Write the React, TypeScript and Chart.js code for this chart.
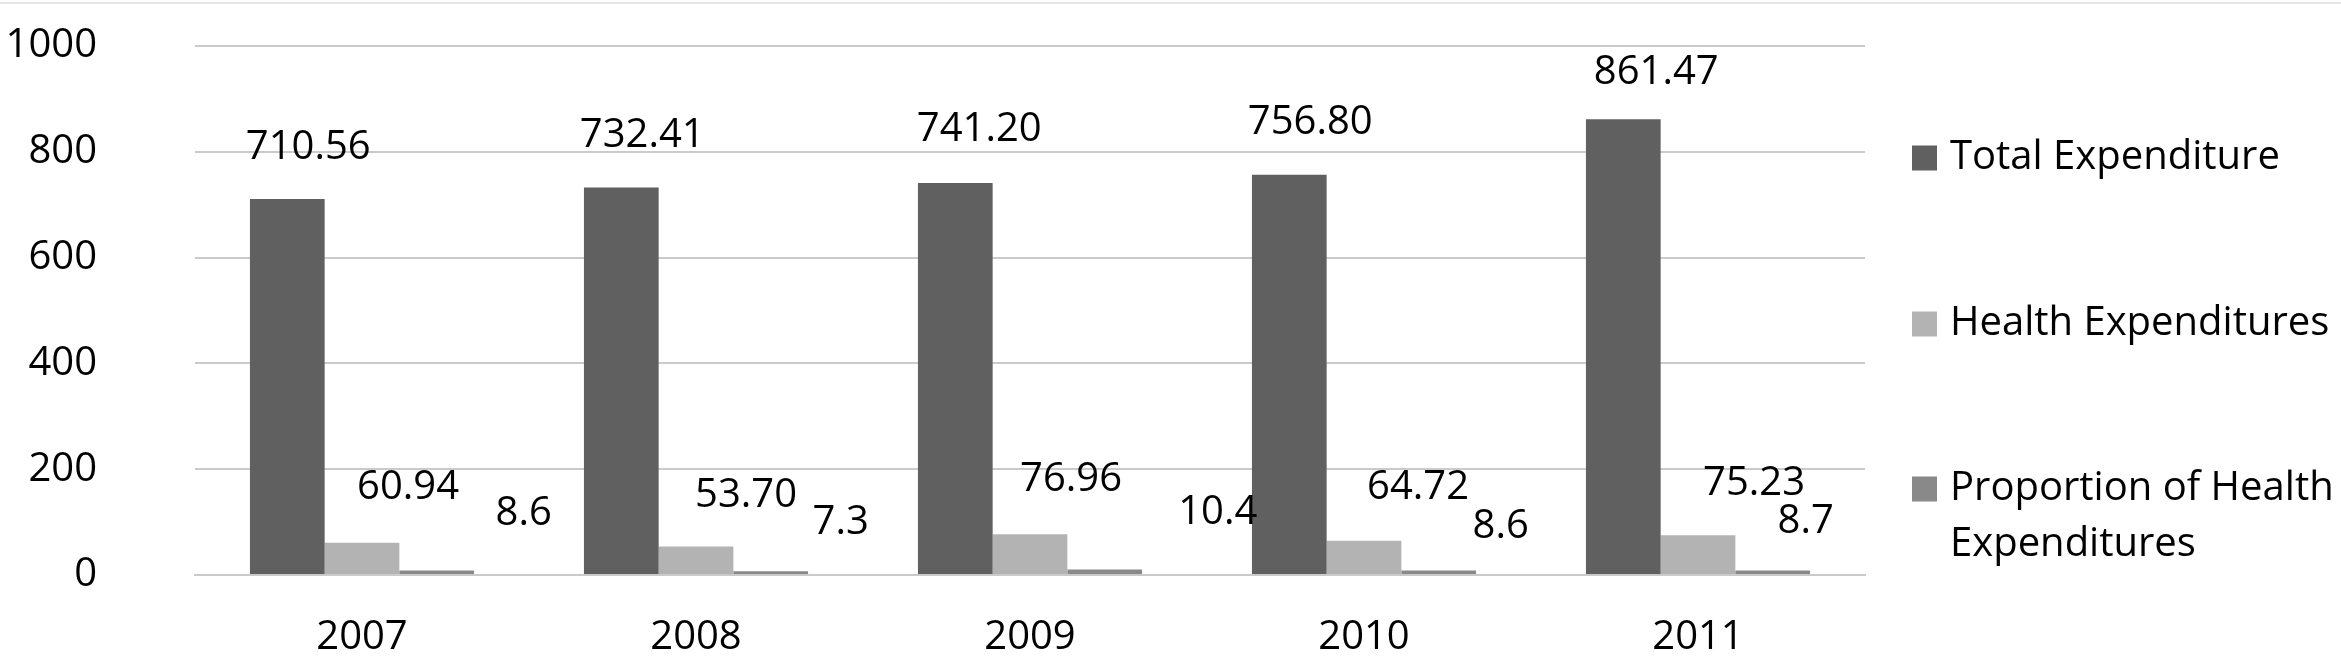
import React, { useEffect, useRef } from 'react';
import { Chart, registerables } from 'chart.js';

Chart.register(...registerables);

// ---------------- data ----------------
const years = ['2007', '2008', '2009', '2010', '2011'];
const totalExpenditure = [710.56, 732.41, 741.2, 756.8, 861.47];
const healthExpenditures = [60.94, 53.7, 76.96, 64.72, 75.23];
const proportionOfHealth = [8.6, 7.3, 10.4, 8.6, 8.7];
const seriesNames = ['Total Expenditure', 'Health Expenditures', 'Proportion of Health Expenditures'];
const seriesDecimals = [2, 2, 1];
const yTicks = [0, 200, 400, 600, 800, 1000];

// ---------------- styles ----------------
const FONT = "'Open Sans', sans-serif";
const FONT_SIZE = 40;
const COLORS = ['#606060', '#b3b3b3', '#898989'];
const GRID = '#cacaca';
const W = 2341;
const H = 661;

// per-label placement (dx, dy) relative to the top-centre of its bar
const LABEL_OFFSETS: number[][][] = [
  [[21, -52], [21, -52], [24, -53], [21, -52], [33, -47]],
  [[46, -55], [50, -51], [41, -55], [54, -53], [56, -52]],
  [[87, -57], [70, -49], [113, -57], [62, -44], [33, -49]],
];

const LEGEND = { boxX: 1912, box: 25, textX: 1950, itemY: [158, 324, 489], lineH: 56, maxW: 385 };

const valueLabelPlugin = {
  id: 'valueLabels',
  afterDatasetsDraw(chart: any) {
    const ctx = chart.ctx;
    ctx.save();
    ctx.font = `${FONT_SIZE}px ${FONT}`;
    ctx.fillStyle = '#000';
    ctx.textAlign = 'center';
    ctx.textBaseline = 'middle';
    chart.data.datasets.forEach((ds: any, i: number) => {
      const meta = chart.getDatasetMeta(i);
      meta.data.forEach((bar: any, j: number) => {
        const [dx, dy] = LABEL_OFFSETS[i][j];
        const v = ds.data[j] as number;
        ctx.fillText(v.toFixed(seriesDecimals[i]), bar.x + dx, bar.y + dy);
      });
    });
    ctx.restore();
  },
};

const framePlugin = {
  id: 'frame',
  beforeDraw(chart: any) {
    const ctx = chart.ctx;
    ctx.save();
    ctx.fillStyle = '#fff';
    ctx.fillRect(0, 0, chart.width, chart.height);
    ctx.strokeStyle = '#e6e6e6';
    ctx.lineWidth = 2;
    ctx.beginPath();
    ctx.moveTo(0, 3);
    ctx.lineTo(chart.width, 3);
    ctx.stroke();
    ctx.restore();
  },
};

const legendPlugin = {
  id: 'sideLegend',
  afterDraw(chart: any) {
    const ctx = chart.ctx;
    ctx.save();
    ctx.font = `${FONT_SIZE}px ${FONT}`;
    ctx.textAlign = 'left';
    ctx.textBaseline = 'middle';
    chart.data.datasets.forEach((ds: any, i: number) => {
      const y = LEGEND.itemY[i];
      ctx.fillStyle = ds.backgroundColor;
      ctx.fillRect(LEGEND.boxX, y - LEGEND.box / 2, LEGEND.box, LEGEND.box);
      const words = String(ds.label).split(' ');
      const lines: string[] = [];
      let cur = '';
      words.forEach((w) => {
        const test = cur ? cur + ' ' + w : w;
        if (cur && ctx.measureText(test).width > LEGEND.maxW) {
          lines.push(cur);
          cur = w;
        } else {
          cur = test;
        }
      });
      if (cur) lines.push(cur);
      ctx.fillStyle = '#000';
      lines.forEach((ln, k) => ctx.fillText(ln, LEGEND.textX, y + k * LEGEND.lineH));
    });
    ctx.restore();
  },
};

export default function App() {
  const canvasRef = useRef<HTMLCanvasElement | null>(null);

  useEffect(() => {
    document.body.style.margin = '0';
    const canvas = canvasRef.current;
    if (!canvas) return;
    const seriesValues = [totalExpenditure, healthExpenditures, proportionOfHealth];
    const chart = new Chart(canvas, {
      type: 'bar',
      data: {
        labels: years,
        datasets: seriesValues.map((vals, i) => ({
          label: seriesNames[i],
          data: vals,
          backgroundColor: COLORS[i],
          borderWidth: 0,
          categoryPercentage: 0.671,
          barPercentage: 1.0,
        })),
      },
      options: {
        animation: false,
        responsive: false,
        devicePixelRatio: 1,
        layout: { padding: { top: 46, right: W - 1865, bottom: 0, left: 0 } },
        plugins: { legend: { display: false }, tooltip: { enabled: false } },
        scales: {
          x: {
            grid: { display: false, drawTicks: false },
            border: { display: true, color: GRID, width: 2 },
            ticks: { font: { size: FONT_SIZE, family: FONT }, color: '#000', padding: 39 },
            afterFit: (s: any) => {
              s.height = 86;
            },
          },
          y: {
            min: yTicks[0],
            max: yTicks[yTicks.length - 1],
            ticks: {
              stepSize: yTicks[1] - yTicks[0],
              font: { size: FONT_SIZE, family: FONT },
              color: '#000',
              padding: 98,
              callback: (v: any) => String(v),
            },
            grid: { color: GRID, lineWidth: 2, drawTicks: false },
            border: { display: false },
            afterFit: (s: any) => {
              s.width = 195;
              s.paddingTop = 0;
              s.paddingBottom = 0;
            },
          },
        },
      },
      plugins: [framePlugin, valueLabelPlugin, legendPlugin],
    } as any);

    let alive = true;
    if ((document as any).fonts && (document as any).fonts.load) {
      (document as any).fonts.load(`${FONT_SIZE}px "Open Sans"`).then(() => {
        if (alive) chart.update('none');
      });
    }
    return () => {
      alive = false;
      chart.destroy();
    };
  }, []);

  return (
    <div style={{ width: W, height: H }}>
      <canvas ref={canvasRef} width={W} height={H} style={{ display: 'block' }} />
    </div>
  );
}
